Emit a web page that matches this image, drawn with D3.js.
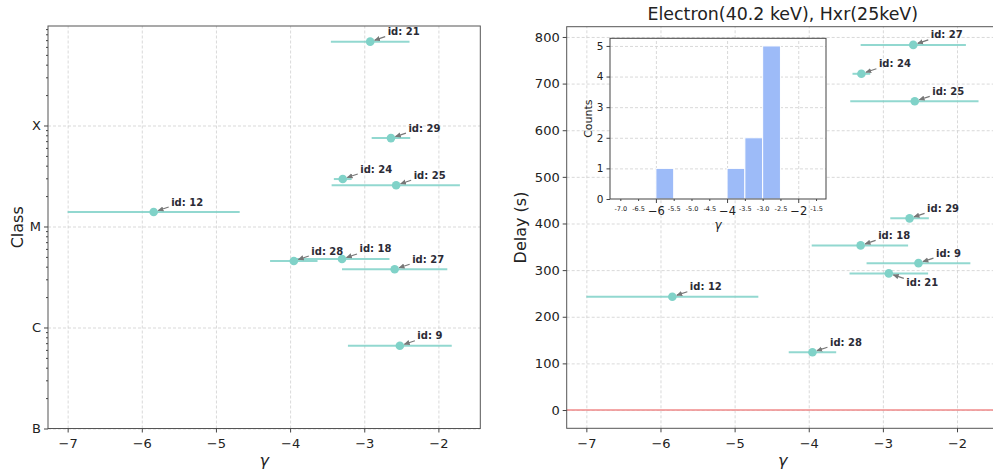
<!DOCTYPE html>
<html>
<head>
<meta charset="utf-8">
<script src="https://cdn.jsdelivr.net/npm/d3@7"></script>
<style>
body { margin: 0; background: #fff; }
svg { font-family: 'DejaVu Sans', sans-serif; display: block; }
svg text { font-family: 'DejaVu Sans', sans-serif; }
.grid line { stroke: #cfcfcf; stroke-dasharray: 3,2; stroke-width: 0.8; }
.grid .domain { display: none; }
.axis .domain { display: none; }
.axis line { stroke: #444; }
.axis text { fill: #222; }
.label { fill: #222; }
.id-label { font-size: 10px; font-weight: bold; fill: #2b2b36; }
</style>
</head>
<body>
<svg width="993" height="474"></svg>
<script>
// flare events
const ids = [9, 12, 18, 21, 24, 25, 27, 28, 29];
const gamma = [-2.52, -5.84, -3.30, -2.92, -3.29, -2.57, -2.59, -3.95, -2.64];
const gammaLow = [-3.22, -7.00, -3.96, -3.45, -3.41, -3.44, -3.30, -4.27, -2.90];
const gammaHigh = [-1.82, -4.68, -2.66, -2.39, -3.17, -1.71, -1.88, -3.63, -2.38];
const peakFlux = [6.6e-7, 1.39e-5, 4.77e-6, 6.76e-4, 2.95e-5, 2.56e-5, 3.77e-6, 4.55e-6, 7.5e-5];
const delay = [315, 243, 353, 293, 721, 662, 783, 124, 411];

const classNames = ['B', 'C', 'M', 'X'];
const classFlux = [1e-7, 1e-6, 1e-5, 1e-4];
const gammaTicks = [-7, -6, -5, -4, -3, -2];
const delayTicks = [0, 100, 200, 300, 400, 500, 600, 700, 800];

// inset histogram
const binStart = [-6.0, -4.0, -3.5, -3.0];
const binCounts = [1, 1, 2, 5];
const binWidth = 0.5;
const histMajorTicks = [-6, -4, -2];
const histMinorTicks = [-7.0, -6.5, -5.5, -5.0, -4.5, -3.5, -3.0, -2.5, -1.5];
const countTicks = [0, 1, 2, 3, 4, 5];

const labelBelowRight = [21];

const svg = d3.select('svg');
const teal = '#80d2c8';
const xDomain = [-7.265, -1.435];
const rows = ids.map((id, i) => ({
    id, g: gamma[i], lo: gammaLow[i], hi: gammaHigh[i], flux: peakFlux[i], delay: delay[i]
}));

svg.append('defs').append('marker')
    .attr('id', 'arrow')
    .attr('viewBox', '0 0 8 8')
    .attr('refX', 7).attr('refY', 4)
    .attr('markerWidth', 6).attr('markerHeight', 6)
    .attr('markerUnits', 'userSpaceOnUse')
    .attr('orient', 'auto')
    .append('path')
    .attr('d', 'M0,0.5 L8,4 L0,7.5 Z')
    .attr('fill', '#777');

const styleAxis = (sel, size) => sel.attr('font-family', null).attr('font-size', null)
    .selectAll('text').style('font-size', size);

const drawPoints = (g, data, xScale, yValue, below) => {
    g.selectAll('line.err').data(data).enter().append('line')
        .attr('class', 'err')
        .attr('x1', d => xScale(d.lo)).attr('x2', d => xScale(d.hi))
        .attr('y1', d => yValue(d)).attr('y2', d => yValue(d))
        .attr('stroke', teal).attr('stroke-width', 2).attr('opacity', 0.85);
    g.selectAll('circle').data(data).enter().append('circle')
        .attr('cx', d => xScale(d.g)).attr('cy', d => yValue(d))
        .attr('r', 4.3).attr('fill', teal);
    data.forEach(d => {
        const x = xScale(d.g), y = yValue(d);
        const isBelow = below.includes(d.id);
        const sx = x + 15, sy = isBelow ? y + 5 : y - 5;
        const len = Math.hypot(sx - x, sy - y);
        const ex = x + (sx - x) / len * 4.8, ey = y + (sy - y) / len * 4.8;
        g.append('line')
            .attr('x1', sx).attr('y1', sy).attr('x2', ex).attr('y2', ey)
            .attr('stroke', '#777').attr('stroke-width', 1.2)
            .attr('marker-end', 'url(#arrow)');
        g.append('text')
            .attr('class', 'id-label')
            .attr('x', x + 17.5)
            .attr('y', isBelow ? y + 12.5 : y - 6.5)
            .text(`id: ${d.id}`);
    });
};

// ---------- left panel: class vs gamma ----------
const L = { left: 48, right: 480.3, top: 26, bottom: 428.5 };
const xL = d3.scaleLinear().domain(xDomain).range([L.left, L.right]);
const yL = d3.scaleLog().domain([1e-7, Math.pow(10, -3.015)]).range([L.bottom, L.top]);

svg.append('g').attr('class', 'grid')
    .attr('transform', `translate(0, ${L.bottom})`)
    .call(d3.axisBottom(xL).tickValues(gammaTicks).tickSize(-(L.bottom - L.top)).tickFormat(''));
svg.append('g').attr('class', 'grid')
    .attr('transform', `translate(${L.left}, 0)`)
    .call(d3.axisLeft(yL).tickValues(classFlux).tickSize(-(L.right - L.left)).tickFormat(''));

const gL = svg.append('g');
drawPoints(gL, rows, xL, d => yL(d.flux), []);

svg.append('rect')
    .attr('x', L.left).attr('y', L.top)
    .attr('width', L.right - L.left).attr('height', L.bottom - L.top)
    .attr('fill', 'none').attr('stroke', '#555').attr('stroke-width', 1);

svg.append('g').attr('class', 'axis')
    .attr('transform', `translate(0, ${L.bottom})`)
    .call(d3.axisBottom(xL).tickValues(gammaTicks).tickSize(4).tickPadding(6).tickFormat(d3.format('d')))
    .call(styleAxis, '13px');

const minorFlux = [];
[-7, -6, -5, -4].forEach(e => {
    for (let k = 2; k <= 9; k++) minorFlux.push(k * Math.pow(10, e));
});
svg.append('g').attr('class', 'axis')
    .attr('transform', `translate(${L.left}, 0)`)
    .call(d3.axisLeft(yL).tickValues(minorFlux.filter(v => v < yL.domain()[1])).tickSize(2).tickFormat(''));
svg.append('g').attr('class', 'axis')
    .attr('transform', `translate(${L.left}, 0)`)
    .call(d3.axisLeft(yL).tickValues(classFlux).tickSize(4).tickPadding(3).tickFormat((d, i) => classNames[i]))
    .call(styleAxis, '13px');

svg.append('text').attr('class', 'label')
    .attr('transform', `translate(23, ${(L.top + L.bottom) / 2}) rotate(-90)`)
    .attr('text-anchor', 'middle').style('font-size', '16px')
    .text('Class');
svg.append('text').attr('class', 'label')
    .attr('x', (L.left + L.right) / 2).attr('y', 466)
    .attr('text-anchor', 'middle').style('font-size', '16px').style('font-style', 'italic')
    .text('γ');

// ---------- right panel: delay vs gamma ----------
const R = { left: 566.7, right: 998.9, top: 26.7, bottom: 428.3 };
const xR = d3.scaleLinear().domain(xDomain).range([R.left, R.right]);
const yR = d3.scaleLinear().domain([-39.2, 822]).range([R.bottom, R.top]);

svg.append('g').attr('class', 'grid')
    .attr('transform', `translate(0, ${R.bottom})`)
    .call(d3.axisBottom(xR).tickValues(gammaTicks).tickSize(-(R.bottom - R.top)).tickFormat(''));
svg.append('g').attr('class', 'grid')
    .attr('transform', `translate(${R.left}, 0)`)
    .call(d3.axisLeft(yR).tickValues(delayTicks).tickSize(-(R.right - R.left)).tickFormat(''));

svg.append('line')
    .attr('x1', R.left).attr('x2', R.right)
    .attr('y1', yR(0)).attr('y2', yR(0))
    .attr('stroke', '#f08a8a').attr('stroke-width', 1.6);

const gR = svg.append('g');
drawPoints(gR, rows, xR, d => yR(d.delay), labelBelowRight);

svg.append('rect')
    .attr('x', R.left).attr('y', R.top)
    .attr('width', R.right - R.left).attr('height', R.bottom - R.top)
    .attr('fill', 'none').attr('stroke', '#555').attr('stroke-width', 1);

svg.append('g').attr('class', 'axis')
    .attr('transform', `translate(0, ${R.bottom})`)
    .call(d3.axisBottom(xR).tickValues(gammaTicks).tickSize(4).tickPadding(6).tickFormat(d3.format('d')))
    .call(styleAxis, '13px');
svg.append('g').attr('class', 'axis')
    .attr('transform', `translate(${R.left}, 0)`)
    .call(d3.axisLeft(yR).tickValues(delayTicks).tickSize(4).tickPadding(3).tickFormat(d3.format('d')))
    .call(styleAxis, '13px');

svg.append('text').attr('class', 'label')
    .attr('transform', `translate(526, ${(R.top + R.bottom) / 2}) rotate(-90)`)
    .attr('text-anchor', 'middle').style('font-size', '16px')
    .text('Delay (s)');
svg.append('text').attr('class', 'label')
    .attr('x', (R.left + R.right) / 2).attr('y', 466)
    .attr('text-anchor', 'middle').style('font-size', '16px').style('font-style', 'italic')
    .text('γ');
svg.append('text').attr('class', 'label')
    .attr('x', (R.left + R.right) / 2).attr('y', 20)
    .attr('text-anchor', 'middle').style('font-size', '17.4px')
    .text('Electron(40.2 keV), Hxr(25keV)');

// ---------- inset histogram ----------
const I = { left: 610, right: 826, top: 38.3, bottom: 199 };
const xI = d3.scaleLinear().domain([-7.29, -1.22]).range([I.left, I.right]);
const yI = d3.scaleLinear().domain([0, 5.25]).range([I.bottom, I.top]);

svg.append('rect')
    .attr('x', I.left).attr('y', I.top)
    .attr('width', I.right - I.left).attr('height', I.bottom - I.top)
    .attr('fill', '#fff');

svg.append('g').attr('class', 'grid')
    .attr('transform', `translate(0, ${I.bottom})`)
    .call(d3.axisBottom(xI).tickValues(histMajorTicks).tickSize(-(I.bottom - I.top)).tickFormat(''));
svg.append('g').attr('class', 'grid')
    .attr('transform', `translate(${I.left}, 0)`)
    .call(d3.axisLeft(yI).tickValues(countTicks.slice(1)).tickSize(-(I.right - I.left)).tickFormat(''));

svg.append('g').selectAll('rect')
    .data(binStart.map((s, i) => ({ s, c: binCounts[i] })))
    .enter().append('rect')
    .attr('x', d => xI(d.s))
    .attr('width', d => xI(d.s + binWidth) - xI(d.s))
    .attr('y', d => yI(d.c))
    .attr('height', d => yI(0) - yI(d.c))
    .attr('fill', '#9dbbf8')
    .attr('stroke', '#fff').attr('stroke-width', 1);

svg.append('rect')
    .attr('x', I.left).attr('y', I.top)
    .attr('width', I.right - I.left).attr('height', I.bottom - I.top)
    .attr('fill', 'none').attr('stroke', '#444').attr('stroke-width', 1);

svg.append('g').attr('class', 'axis')
    .attr('transform', `translate(0, ${I.bottom})`)
    .call(d3.axisBottom(xI).tickValues(histMinorTicks).tickSize(2).tickPadding(5).tickFormat(d => d.toFixed(1)))
    .call(styleAxis, '6.5px');
svg.append('g').attr('class', 'axis')
    .attr('transform', `translate(0, ${I.bottom})`)
    .call(d3.axisBottom(xI).tickValues(histMajorTicks).tickSize(4).tickPadding(4).tickFormat(d3.format('d')))
    .call(styleAxis, '11.5px');
svg.append('g').attr('class', 'axis')
    .attr('transform', `translate(${I.left}, 0)`)
    .call(d3.axisLeft(yI).tickValues(countTicks).tickSize(3.5).tickPadding(3).tickFormat(d3.format('d')))
    .call(styleAxis, '10.5px');

svg.append('text').attr('class', 'label')
    .attr('transform', `translate(592, ${(I.top + I.bottom) / 2}) rotate(-90)`)
    .attr('text-anchor', 'middle').style('font-size', '11px')
    .text('Counts');
svg.append('text').attr('class', 'label')
    .attr('x', (I.left + I.right) / 2).attr('y', 229)
    .attr('text-anchor', 'middle').style('font-size', '12px').style('font-style', 'italic')
    .text('γ');
</script>
</body>
</html>
